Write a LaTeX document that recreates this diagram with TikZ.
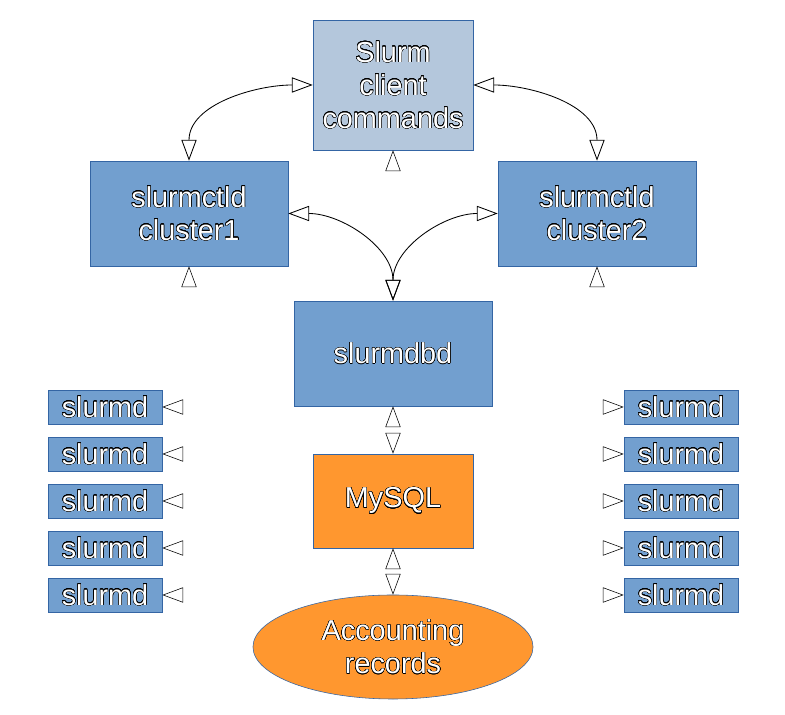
\documentclass[tikz,border=0pt]{standalone}
\usepackage{fontspec}
\setmainfont{Liberation Sans}
\usepackage{contour}
\usetikzlibrary{arrows.meta,shapes.geometric}
\contourlength{0.3pt}
\contournumber{24}
\definecolor{edgeblue}{RGB}{52,101,164}
\definecolor{boxblue}{RGB}{114,159,207}
\definecolor{paleblue}{RGB}{180,199,220}
\definecolor{boxorange}{RGB}{255,151,47}
\newcommand{\olt}[1]{\contour{black}{#1}}
\begin{document}
\begin{tikzpicture}[x=0.025cm,y=0.025cm,
		>={Triangle[open,length=0.52cm,width=0.38cm,color=black]},
		box/.style={draw=edgeblue,fill=boxblue,text=white,align=center,inner sep=0pt,
			minimum width=4.95cm,minimum height=2.625cm,font=\fontsize{20.5}{23.5}\selectfont},
		small/.style={box,minimum width=2.85cm,minimum height=0.85cm},
		link/.style={<->,line width=0.6pt},
		stub/.style={->,white,dashed},
		stubs/.style={<->,white,dashed}]
		\useasboundingbox (0,0) rectangle (785,715);
		\node[box,fill=paleblue,minimum width=4cm,minimum height=3.25cm] (client) at (393,630) {\olt{Slurm}\\\olt{client}\\\olt{commands}};
		\node[box] (ctld1) at (189,501.5) {\olt{slurmctld}\\\olt{cluster1}};
		\node[box] (ctld2) at (597,501.5) {\olt{slurmctld}\\\olt{cluster2}};
		\node[box] (dbd) at (393,361.5) {\olt{slurmdbd}};
		\node[box,fill=boxorange,minimum width=4cm,minimum height=2.35cm] (mysql) at (393,214) {\olt{MySQL}};
		\node[box,fill=boxorange,ellipse,minimum width=7cm,minimum height=2.6cm] (acct) at (393,68) {\olt{Accounting}\\\olt{records}};
		\node[small] (dl1) at (105,308) {\olt{slurmd}};
		\node[small] (dl2) at (105,261) {\olt{slurmd}};
		\node[small] (dl3) at (105,214) {\olt{slurmd}};
		\node[small] (dl4) at (105,167) {\olt{slurmd}};
		\node[small] (dl5) at (105,120) {\olt{slurmd}};
		\node[small] (dr1) at (681,308) {\olt{slurmd}};
		\node[small] (dr2) at (681,261) {\olt{slurmd}};
		\node[small] (dr3) at (681,214) {\olt{slurmd}};
		\node[small] (dr4) at (681,167) {\olt{slurmd}};
		\node[small] (dr5) at (681,120) {\olt{slurmd}};
		\draw[link] (client.west) to[out=180,in=90] (ctld1.north);
		\draw[link] (client.east) to[out=0,in=90] (ctld2.north);
		\draw[link] (ctld1.east) to[out=0,in=90] (dbd.north);
		\draw[link] (ctld2.west) to[out=180,in=90] (dbd.north);
		\coordinate (cb) at (393,543);
		\coordinate (c1b) at (189,425);
		\coordinate (c2b) at (597,425);
		\coordinate (l1) at (190,308);
		\coordinate (l2) at (190,261);
		\coordinate (l3) at (190,214);
		\coordinate (l4) at (190,167);
		\coordinate (l5) at (190,120);
		\coordinate (r1) at (598,308);
		\coordinate (r2) at (598,261);
		\coordinate (r3) at (598,214);
		\coordinate (r4) at (598,167);
		\coordinate (r5) at (598,120);
		\draw[stub] (cb) -- (client.south);
		\draw[stub] (c1b) -- (ctld1.south);
		\draw[stub] (c2b) -- (ctld2.south);
		\draw[stubs] (dbd.south) -- (mysql.north);
		\draw[stubs] (mysql.south) -- (acct.north);
		\draw[stub] (l1) -- (dl1.east);
		\draw[stub] (l2) -- (dl2.east);
		\draw[stub] (l3) -- (dl3.east);
		\draw[stub] (l4) -- (dl4.east);
		\draw[stub] (l5) -- (dl5.east);
		\draw[stub] (r1) -- (dr1.west);
		\draw[stub] (r2) -- (dr2.west);
		\draw[stub] (r3) -- (dr3.west);
		\draw[stub] (r4) -- (dr4.west);
		\draw[stub] (r5) -- (dr5.west);
	\end{tikzpicture}
\end{document}
